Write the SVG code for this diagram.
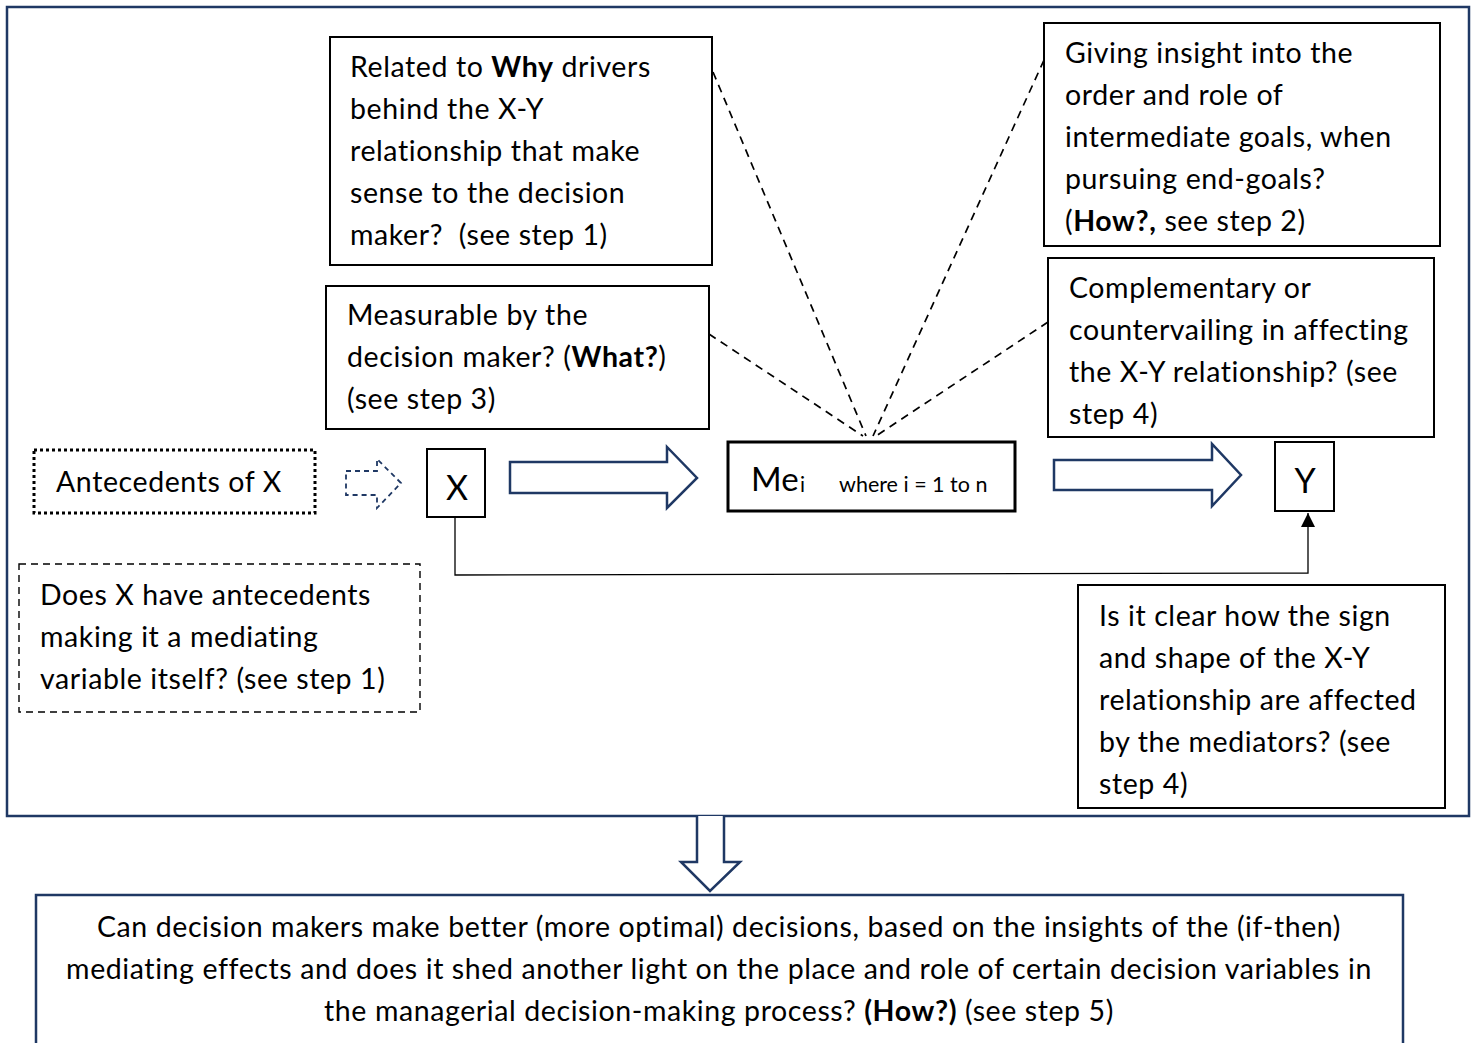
<svg xmlns="http://www.w3.org/2000/svg" width="1475" height="1043" viewBox="0 0 1475 1043">
<style>
text{font-family:Lato,"Liberation Sans",sans-serif;font-size:28.5px;letter-spacing:0.6px;fill:#000}
.b{font-weight:bold}
.box{fill:#fff;stroke:#000;stroke-width:2}
.navy{fill:#fff;stroke:#1f3864;stroke-width:2.5}
.dash{fill:none;stroke:#000;stroke-width:1.7;stroke-dasharray:8 6}
</style>
<defs>
<marker id="ah" viewBox="0 0 10 10" refX="10" refY="5" markerWidth="14" markerHeight="14" markerUnits="userSpaceOnUse" orient="auto"><path d="M0,0 L10,5 L0,10 Z" fill="#000"/></marker>
</defs>
<rect id="frame" x="7" y="7" width="1462" height="809" fill="#fff" stroke="#1f3864" stroke-width="2.5"/>
<g id="connectors">
<line class="dash" x1="713" y1="72" x2="866" y2="436"/>
<line class="dash" x1="1044" y1="60" x2="873" y2="436"/>
<line class="dash" x1="709" y1="334" x2="863" y2="436"/>
<line class="dash" x1="1048" y1="322" x2="876" y2="436"/>
<polyline points="455,517 455,575 1308,573 1308,513" fill="none" stroke="#000" stroke-width="1.3" marker-end="url(#ah)"/>
<path id="arr-small" d="M346,471 H377 V459 L401,483 L377,508 V495 H346 Z" fill="#fff" stroke="#1f3864" stroke-width="1.8" stroke-dasharray="5 4"/>
<path id="arr1" class="navy" d="M510,462 H667 V447 L697,478 L667,508 V493 H510 Z"/>
<path id="arr2" class="navy" d="M1054,460 H1212 V444 L1241,475 L1212,506 V490 H1054 Z"/>
<path id="arr-down" class="navy" d="M697,816 V862 H681 L710,891 L740,862 H724 V816"/>
</g>
<g id="why">
<rect class="box" x="330" y="37" width="382" height="228"/>
<text x="350" y="77">Related to <tspan class="b">Why</tspan> drivers</text>
<text x="350" y="119">behind the X-Y</text>
<text x="350" y="161">relationship that make</text>
<text x="350" y="203">sense to the decision</text>
<text x="350" y="245">maker?&#160; (see step 1)</text>
</g>
<g id="how">
<rect class="box" x="1044" y="23" width="396" height="223"/>
<text x="1065" y="63">Giving insight into the</text>
<text x="1065" y="105">order and role of</text>
<text x="1065" y="147">intermediate goals, when</text>
<text x="1065" y="189">pursuing end-goals?</text>
<text x="1065" y="231">(<tspan class="b">How?,</tspan> see step 2)</text>
</g>
<g id="what">
<rect class="box" x="326" y="286" width="383" height="143"/>
<text x="347" y="325">Measurable by the</text>
<text x="347" y="367">decision maker? (<tspan class="b">What?</tspan>)</text>
<text x="347" y="409">(see step 3)</text>
</g>
<g id="compl">
<rect class="box" x="1048" y="258" width="386" height="179"/>
<text x="1069" y="298">Complementary or</text>
<text x="1069" y="340">countervailing in affecting</text>
<text x="1069" y="382">the X-Y relationship? (see</text>
<text x="1069" y="424">step 4)</text>
</g>
<g id="antecedents">
<rect x="34" y="450" width="281" height="63" fill="#fff" stroke="#000" stroke-width="3" stroke-dasharray="3 3"/>
<text x="56" y="492">Antecedents of X</text>
</g>
<g id="x">
<rect class="box" x="427" y="449" width="58" height="68"/>
<text x="457" y="500" text-anchor="middle" style="font-size:34px;letter-spacing:0">X</text>
</g>
<g id="me">
<rect x="728" y="442" width="287" height="69" fill="#fff" stroke="#000" stroke-width="3"/>
<text x="751" y="491" style="font-size:33px;letter-spacing:0">Me</text>
<text x="800" y="492" style="font-size:21px;letter-spacing:0">i</text>
<text x="839" y="492" style="font-size:21.5px;letter-spacing:0">where i = 1 to n</text>
</g>
<g id="y">
<rect class="box" x="1275" y="442" width="59" height="69"/>
<text x="1305" y="493" text-anchor="middle" style="font-size:34px;letter-spacing:0">Y</text>
</g>
<g id="antq">
<rect x="19" y="564" width="401" height="148" fill="#fff" stroke="#000" stroke-width="1.4" stroke-dasharray="7 5"/>
<text x="40" y="605">Does X have antecedents</text>
<text x="40" y="647">making it a mediating</text>
<text x="40" y="689">variable itself? (see step 1)</text>
</g>
<g id="clear">
<rect class="box" x="1078" y="585" width="367" height="223"/>
<text x="1099" y="626">Is it clear how the sign</text>
<text x="1099" y="668">and shape of the X-Y</text>
<text x="1099" y="710">relationship are affected</text>
<text x="1099" y="752">by the mediators? (see</text>
<text x="1099" y="794">step 4)</text>
</g>
<g id="decision">
<rect x="36" y="895" width="1367" height="160" fill="#fff" stroke="#1f3864" stroke-width="2.5"/>
<text x="719" y="937" text-anchor="middle">Can decision makers make better (more optimal) decisions, based on the insights of the (if-then)</text>
<text x="719" y="979" text-anchor="middle">mediating effects and does it shed another light on the place and role of certain decision variables in</text>
<text x="719" y="1021" text-anchor="middle">the managerial decision-making process? <tspan class="b">(How?)</tspan> (see step 5)</text>
</g>
</svg>
